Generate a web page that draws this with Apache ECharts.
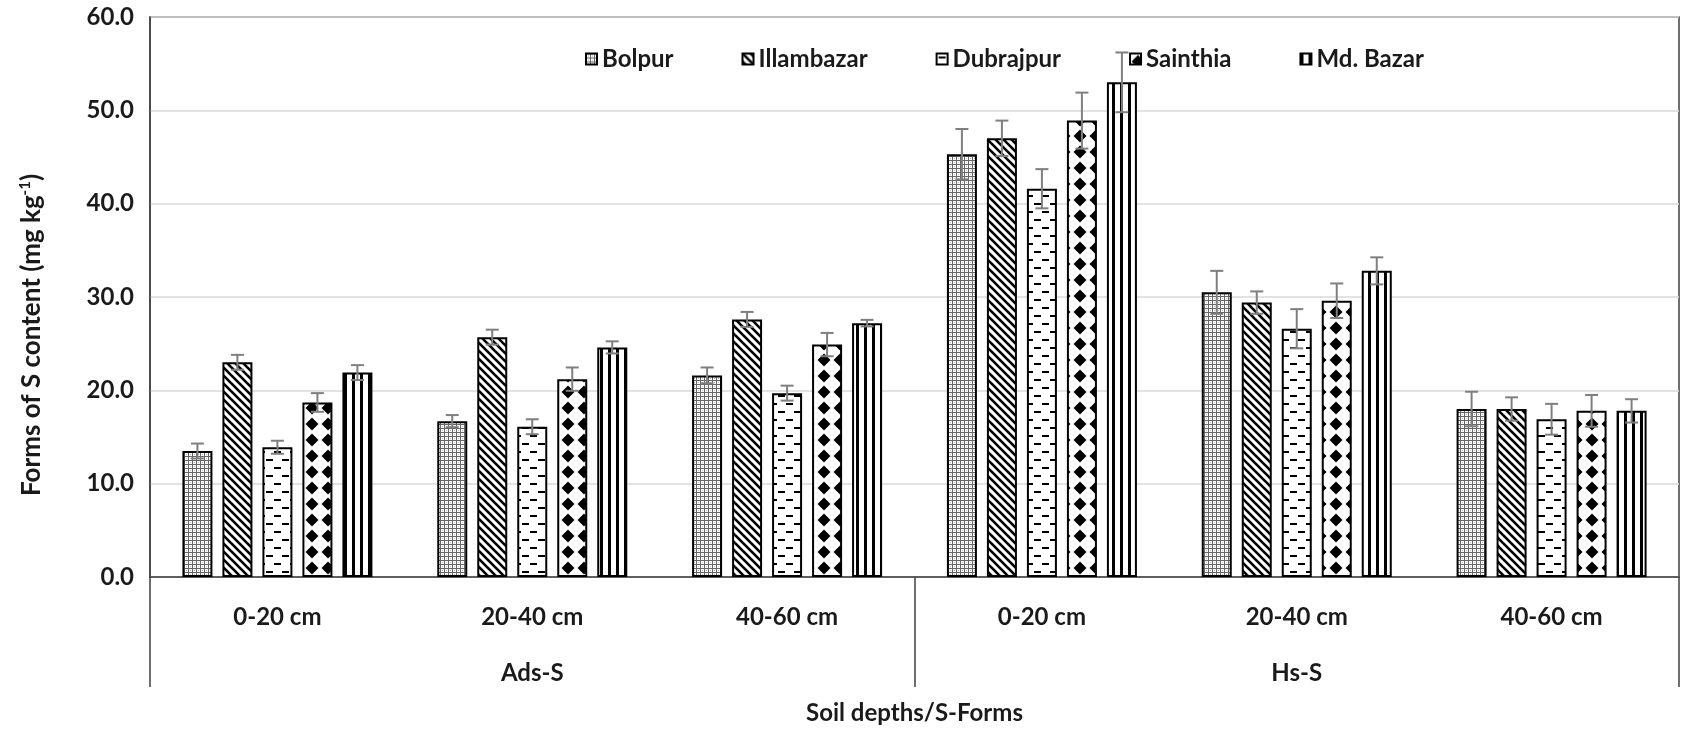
<!DOCTYPE html>
<html>
<head>
<meta charset="utf-8">
<script src="https://cdn.jsdelivr.net/npm/echarts@6/dist/echarts.min.js"></script>
<style>
  html, body { margin: 0; padding: 0; background: #fff; }
  #chart { width: 1682px; height: 732px; }
</style>
</head>
<body>
<div id="chart"></div>
<script>
// soil depth categories and S-form groups
var depths = ['0-20 cm', '20-40 cm', '40-60 cm', '0-20 cm', '20-40 cm', '40-60 cm'];
var forms = ['Ads-S', 'Hs-S'];
var sites = ['Bolpur', 'Illambazar', 'Dubrajpur', 'Sainthia', 'Md. Bazar'];

// mean values (mg kg-1)
var bolpur = [13.5, 16.7, 21.6, 45.3, 30.5, 18.0];
var illambazar = [23.0, 25.7, 27.6, 47.0, 29.4, 18.0];
var dubrajpur = [13.9, 16.1, 19.7, 41.6, 26.6, 16.9];
var sainthia = [18.7, 21.2, 24.9, 48.9, 29.6, 17.8];
var mdBazar = [21.9, 24.6, 27.2, 53.0, 32.8, 17.8];

// error bar half-widths
var bolpurErr = [0.8, 0.65, 0.85, 2.7, 2.3, 1.85];
var illambazarErr = [0.8, 0.8, 0.8, 1.9, 1.2, 1.25];
var dubrajpurErr = [0.7, 0.8, 0.8, 2.1, 2.1, 1.65];
var sainthiaErr = [1.0, 1.25, 1.25, 3.0, 1.85, 1.7];
var mdBazarErr = [0.8, 0.65, 0.35, 3.2, 1.45, 1.25];

var yTicks = [0, 10, 20, 30, 40, 50, 60];

var values = [bolpur, illambazar, dubrajpur, sainthia, mdBazar];
var errors = [bolpurErr, illambazarErr, dubrajpurErr, sainthiaErr, mdBazarErr];

// fill patterns, one per site
function makePattern(w, h, draw) {
  var c = document.createElement('canvas');
  c.width = w; c.height = h;
  var ctx = c.getContext('2d');
  ctx.fillStyle = '#fff';
  ctx.fillRect(0, 0, w, h);
  ctx.fillStyle = '#000';
  ctx.strokeStyle = '#000';
  draw(ctx);
  return { image: c, repeat: 'repeat' };
}
var patterns = [
  makePattern(4, 4, function (ctx) {
    ctx.fillStyle = '#666';
    ctx.fillRect(0, 0, 4, 1);
    ctx.fillRect(0, 0, 1, 4);
    ctx.fillStyle = '#bbb';
    ctx.fillRect(2, 2, 1, 1);
  }),
  makePattern(8, 8, function (ctx) {
    ctx.lineWidth = 2.6;
    for (var k = -1; k <= 1; k++) {
      ctx.beginPath();
      ctx.moveTo(k * 8 - 2, -2);
      ctx.lineTo(k * 8 + 10, 10);
      ctx.stroke();
    }
  }),
  makePattern(16, 16, function (ctx) {
    ctx.fillRect(2, 3, 7, 2);
    ctx.fillRect(10, 11, 7, 2);
    ctx.fillRect(0, 11, 1, 2);
  }),
  makePattern(16, 16, function (ctx) {
    ctx.beginPath();
    ctx.moveTo(8, 1.5); ctx.lineTo(14.5, 8); ctx.lineTo(8, 14.5); ctx.lineTo(1.5, 8);
    ctx.closePath();
    ctx.fill();
  }),
  makePattern(8, 4, function (ctx) {
    ctx.fillRect(0, 0, 3, 4);
  })
];

var barWidth = 30;
var barStep = 40;

var series = [];
sites.forEach(function (name, i) {
  series.push({
    name: name,
    type: 'bar',
    data: values[i],
    barWidth: barWidth,
    barGap: ((barStep - barWidth) / barWidth * 100) + '%',
    itemStyle: { color: patterns[i], borderColor: '#000', borderWidth: 2 },
    z: 2
  });
});
sites.forEach(function (name, i) {
  var errData = values[i].map(function (v, j) {
    return [j, v - errors[i][j], v + errors[i][j]];
  });
  series.push({
    type: 'custom',
    name: name + ' err',
    data: errData,
    z: 5,
    silent: true,
    renderItem: function (params, api) {
      var lo = api.coord([api.value(0), api.value(1)]);
      var hi = api.coord([api.value(0), api.value(2)]);
      var x = lo[0] + (i - 2) * barStep;
      var cap = 6.5;
      var style = { stroke: '#7f7f7f', lineWidth: 2 };
      return {
        type: 'group',
        children: [
          { type: 'line', shape: { x1: x, y1: hi[1], x2: x, y2: lo[1] }, style: style },
          { type: 'line', shape: { x1: x - cap, y1: hi[1], x2: x + cap, y2: hi[1] }, style: style },
          { type: 'line', shape: { x1: x - cap, y1: lo[1], x2: x + cap, y2: lo[1] }, style: style }
        ]
      };
    }
  });
});

var font = 'Lato, "Liberation Sans", sans-serif';
var txt = { fontFamily: font, fontWeight: 'bold', fontSize: 24, color: '#1a1a1a' };
var chart = echarts.init(document.getElementById('chart'));
chart.setOption({
  animation: false,
  textStyle: { fontFamily: font },
  grid: {
    left: 150, right: 3, top: 17, bottom: 155,
    show: true, borderColor: '#404040', borderWidth: 1.5
  },
  legend: {
    data: sites,
    left: 580,
    top: 42,
    itemWidth: 11,
    itemHeight: 11,
    itemGap: 68,
    icon: 'rect',
    textStyle: txt
  },
  xAxis: [
    {
      type: 'category',
      data: depths,
      position: 'bottom',
      axisLine: { lineStyle: { color: '#404040', width: 1.5 } },
      axisTick: { show: false },
      axisLabel: Object.assign({ margin: 28, interval: 0 }, txt)
    },
    {
      type: 'category',
      data: forms,
      position: 'bottom',
      axisLine: { show: false },
      axisTick: { show: true, length: 110, lineStyle: { color: '#404040', width: 1.5 } },
      axisLabel: Object.assign({ margin: 84 }, txt),
      name: 'Soil depths/S-Forms',
      nameLocation: 'middle',
      nameGap: 124,
      nameTextStyle: txt
    }
  ],
  yAxis: {
    type: 'value',
    min: yTicks[0],
    max: yTicks[yTicks.length - 1],
    interval: yTicks[1] - yTicks[0],
    axisLine: { show: true, lineStyle: { color: '#404040', width: 1.5 } },
    axisTick: { show: false },
    splitLine: { lineStyle: { color: '#d9d9d9', width: 1.5 } },
    axisLabel: Object.assign({
      margin: 16,
      formatter: function (v) { return v.toFixed(1); }
    }, txt),
    name: 'Forms of S content (mg kg{sup|-1})',
    nameLocation: 'middle',
    nameGap: 105,
    nameRotate: 90,
    nameTextStyle: Object.assign({}, txt, {
      fontSize: 26,
      padding: [0, 76, 0, 0],
      rich: { sup: { fontFamily: font, fontWeight: 'bold', fontSize: 15, color: '#1a1a1a', verticalAlign: 'bottom', padding: [0, 0, 12, 0] } }
    })
  },
  series: series
});
</script>
</body>
</html>
